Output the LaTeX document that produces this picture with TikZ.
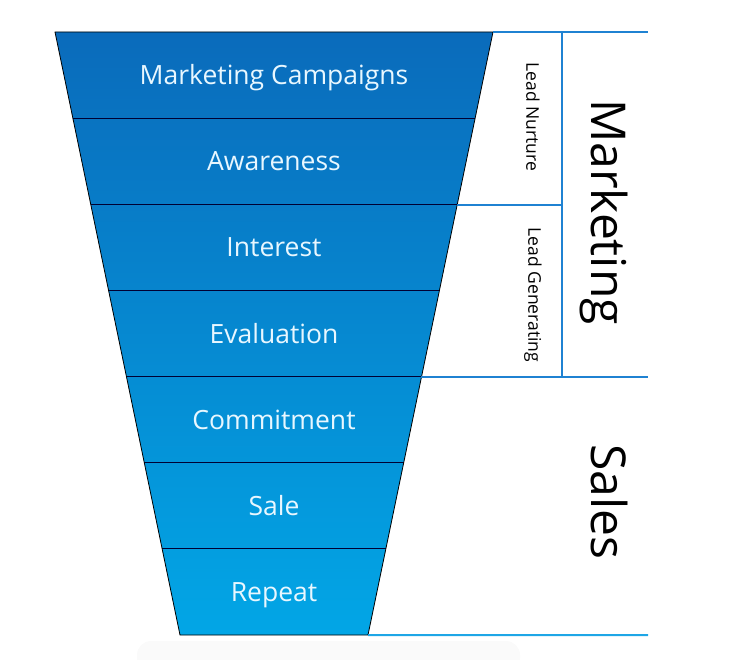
\documentclass[tikz,border=0pt]{standalone}
\usepackage{fontspec}
\setmainfont{Open Sans}
\usetikzlibrary{calc}

\definecolor{funtop}{HTML}{0A6BBB}
\definecolor{funbot}{HTML}{02A6E6}
\definecolor{rulemid}{HTML}{1F82D2}
\definecolor{rulelow}{HTML}{1EA6E6}
\definecolor{lbl}{HTML}{E8F7FF}

\tikzset{
  stage/.style={text=lbl, font=\fontsize{26.5}{26.5}\selectfont,
    text height=19pt, text depth=0pt, inner sep=0pt},
  divider/.style={draw=black!80!blue, line width=0.8pt},
  sideline/.style={draw=rulemid, line width=2pt},
  leadlbl/.style={rotate=-90, font=\fontsize{17.5}{17.5}\selectfont},
  teamlbl/.style={rotate=-90, font=\fontsize{48}{48}\selectfont}
}

\begin{document}
\begin{tikzpicture}[x=1pt,y=-1pt]
\useasboundingbox (0,0) rectangle (730,660);

% faint shadow
\fill[black!2, rounded corners=14pt] (137,641) rectangle (520,672);

% corner points of the stages
\foreach \k in {0,...,7} {
  \pgfmathsetmacro\yy{32+\k*86.143}
  \coordinate (l\k) at ({55+(\yy-32)*0.2073},\yy);
  \coordinate (r\k) at ({493-(\yy-32)*0.2073},\yy);
}

\shade[top color=funtop, bottom color=funbot] (l0) -- (r0) -- (r7) -- (l7) -- cycle;

\foreach \k in {1,...,6}
  \draw[divider] (l\k) -- (r\k);
\draw[black, line width=0.8pt] (l0) -- (r0) -- (r7) -- (l7) -- cycle;

% stage names
\foreach \t [count=\i from 0] in {Marketing Campaigns,Awareness,Interest,Evaluation,Commitment,Sale,Repeat}
  \node[stage] (s\i) at (274,{32+(\i+0.5)*86.143}) {\t};

% frame on the right
\coordinate (topend) at (648,32);
\coordinate (colTop) at (562,32);
\coordinate (colMid) at (562,205);
\coordinate (colLow) at (562,377);
\coordinate (midend) at (648,377);
\coordinate (botend) at (648,635);
\coordinate (rMid) at ({493-173*0.2073},205);
\coordinate (rLow) at ({493-345*0.2073},377);

\draw[sideline] (r0) -- (topend);
\draw[sideline] (colTop) -- (colLow);
\draw[sideline] (rMid) -- (colMid);
\draw[sideline] (rLow) -- (midend);
\draw[sideline, draw=rulelow] (r7) -- (botend);

\node[leadlbl] (nurture) at (533,117) {Lead Nurture};
\node[leadlbl] (generating) at (533,295) {Lead Generating};
\node[teamlbl] (marketing) at (604,212) {Marketing};
\node[teamlbl] (sales) at (609,502) {Sales};
\end{tikzpicture}
\end{document}
